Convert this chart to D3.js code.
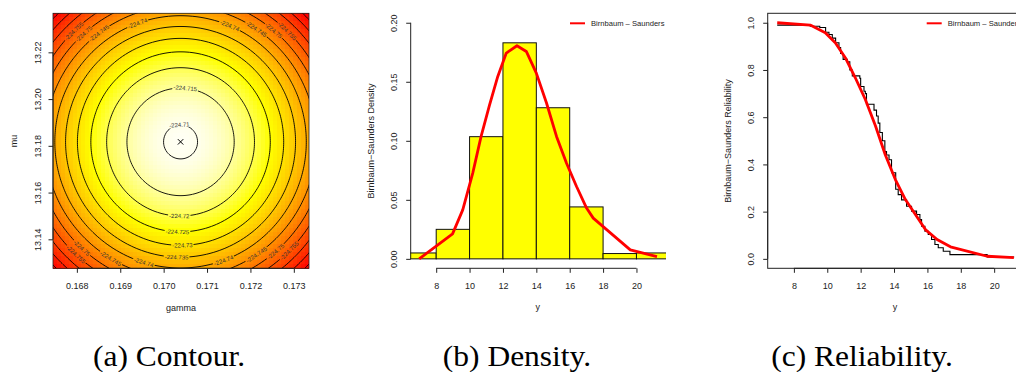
<!DOCTYPE html>
<html>
<head>
<meta charset="utf-8">
<script src="https://cdn.jsdelivr.net/npm/d3@7"></script>
<style>
  body { margin: 0; background: #fff; }
  svg text { font-family: "Liberation Sans", Arial, sans-serif; }
</style>
</head>
<body>
<div id="chart"></div>
<script>
/* DATA */
// (a) contour of the log-likelihood around the MLE
const gammaTicks = [0.168, 0.169, 0.170, 0.171, 0.172, 0.173];
const muTicks = [13.14, 13.16, 13.18, 13.20, 13.22];
const mle = [0.17039, 13.1817];          // gamma, mu
const logLikMax = -224.70944;
const curvature = [3639, 10.49];         // quadratic terms for gamma, mu
const contourLevels = [-224.71, -224.715, -224.72, -224.725, -224.73, -224.735,
  -224.74, -224.745, -224.75, -224.755, -224.76, -224.765, -224.77];
// where each level gets its label: [level, angle on the ring in degrees]
const labelSpots = [
  [-224.71, -94], [-224.715, -85], [-224.72, 91], [-224.725, 92], [-224.73, 89], [-224.735, 92],
  [-224.74, -110], [-224.74, -67], [-224.74, 107], [-224.74, 70],
  [-224.745, -127], [-224.745, -56], [-224.745, 121], [-224.745, 56],
  [-224.75, -132], [-224.75, -50], [-224.75, 133], [-224.75, 49],
  [-224.755, -134], [-224.755, -46], [-224.755, 133], [-224.755, 45]
];

// (b) histogram and fitted density
const binEdges = [6, 8, 10, 12, 14, 16, 18, 20, 22];
const binDensity = [0.005, 0.025, 0.1035, 0.183, 0.128, 0.044, 0.0045, 0.005];
const densX = [6.98, 8.98, 9.59, 10.19, 10.69, 11.19, 11.69, 12.2, 12.84, 13.4, 14.0,
  14.61, 15.21, 15.81, 16.41, 17.01, 17.41, 19.63, 21.23];
const densY = [0, 0.0212, 0.0415, 0.0726, 0.1037, 0.130, 0.1545, 0.1743, 0.1805, 0.1757, 0.1573,
  0.132, 0.1037, 0.081, 0.0613, 0.043, 0.0345, 0.0076, 0.0019];
const densTicks = [0, 0.05, 0.10, 0.15, 0.20];
const yTicks = [8, 10, 12, 14, 16, 18, 20];

// (c) empirical and fitted reliability
const stepX = [7.0, 8.98, 9.55, 9.9, 10.1, 10.3, 10.5, 10.7, 10.8, 10.95, 11.2, 11.35, 11.5,
  11.95, 12.0, 12.2, 12.28, 12.35, 12.8, 12.95, 13.05, 13.15, 13.3, 13.45, 13.55, 13.7, 13.85,
  14.1, 14.25, 14.45, 14.75, 15.05, 15.35, 15.55, 15.65, 15.85, 16.05, 16.25, 16.45, 16.65,
  16.95, 17.35, 19.58, 21.2];
const stepS = [0.99, 0.985, 0.98, 0.96, 0.95, 0.935, 0.915, 0.895, 0.87, 0.845, 0.835, 0.80, 0.775,
  0.765, 0.73, 0.71, 0.70, 0.655, 0.63, 0.605, 0.575, 0.535, 0.50, 0.455, 0.44, 0.42, 0.365,
  0.295, 0.272, 0.25, 0.223, 0.202, 0.188, 0.166, 0.138, 0.117, 0.103, 0.082, 0.061, 0.047,
  0.032, 0.018, 0.008, 0.008];
const survX = [7.0, 8.98, 9.88, 10.48, 11.08, 11.68, 12.28, 12.88, 13.48, 14.08, 14.68, 15.28,
  15.88, 16.58, 17.38, 19.58, 21.18];
const survS = [1.0, 0.99, 0.958, 0.915, 0.852, 0.767, 0.675, 0.565, 0.44, 0.336, 0.251, 0.188,
  0.124, 0.082, 0.051, 0.011, 0.005];
const relTicks = [0, 0.2, 0.4, 0.6, 0.8, 1.0];

const captions = ["(a) Contour.", "(b) Density.", "(c) Reliability."];

/* LAYOUT */
const W = 1016, H = 372;
const plotTop = 13.3, plotBottom = 268.3;
const ink = "#222";

const svg = d3.select("#chart").append("svg")
  .attr("width", W).attr("height", H);
const defs = svg.append("defs");

function bottomAxis(g, scale, ticks, fmt) {
  g.call(d3.axisBottom(scale).tickValues(ticks).tickFormat(fmt)
      .tickSize(4.5).tickSizeOuter(0).tickPadding(10.1))
    .attr("font-size", 9).attr("font-family", null).attr("color", ink);
  g.select(".domain").remove();
  g.append("line")
    .attr("x1", scale(ticks[0])).attr("x2", scale(ticks[ticks.length - 1]))
    .attr("stroke", ink);
}

function leftAxis(g, scale, ticks, fmt, offset) {
  g.call(d3.axisLeft(scale).tickValues(ticks).tickFormat(fmt).tickSize(4.5).tickSizeOuter(0))
    .attr("font-size", 9).attr("font-family", null).attr("color", ink);
  g.select(".domain").remove();
  g.append("line")
    .attr("y1", scale(ticks[0])).attr("y2", scale(ticks[ticks.length - 1]))
    .attr("stroke", ink);
  g.selectAll(".tick text")
    .attr("transform", "rotate(-90)")
    .attr("x", 0).attr("y", -offset).attr("dy", null)
    .attr("text-anchor", "middle");
}

function axisTitle(x, y, txt, rotate) {
  svg.append("text")
    .attr("transform", `translate(${x},${y})` + (rotate ? " rotate(-90)" : ""))
    .attr("text-anchor", "middle")
    .attr("font-size", 9)
    .attr("fill", ink)
    .text(txt);
}

/* (a) CONTOUR */
const aL = 53, aR = 309;
const xA = d3.scaleLinear().domain([0.16745, 0.17335]).range([aL, aR]);
const yA = d3.scaleLinear().domain([13.1276, 13.2367]).range([plotBottom, plotTop]);
const logLik = (g, m) =>
  logLikMax - curvature[0] * (g - mle[0]) ** 2 - curvature[1] * (m - mle[1]) ** 2;

defs.append("clipPath").attr("id", "clipA")
  .append("rect").attr("x", aL).attr("y", plotTop).attr("width", aR - aL).attr("height", plotBottom - plotTop);

// heat image
const nCell = 64;
const cw = (aR - aL) / nCell, ch = (plotBottom - plotTop) / nCell;
const cells = [];
for (let j = 0; j < nCell; j++) {
  for (let i = 0; i < nCell; i++) {
    const px = aL + (i + 0.5) * cw, py = plotTop + (j + 0.5) * ch;
    cells.push({ i, j, z: logLik(xA.invert(px), yA.invert(py)) });
  }
}
const zExt = d3.extent(cells, d => d.z);
const heat = d3.scaleLinear()
  .domain([zExt[0], zExt[0] + 0.75 * (zExt[1] - zExt[0]), zExt[1]])
  .range(["#ff0000", "#ffff00", "#fffff4"]);

svg.append("g").attr("shape-rendering", "crispEdges")
  .selectAll("rect")
  .data(cells)
  .join("rect")
  .attr("x", d => aL + d.i * cw)
  .attr("y", d => plotTop + d.j * ch)
  .attr("width", cw + 0.4)
  .attr("height", ch + 0.4)
  .attr("fill", d => heat(d.z));

// contour lines from a finer grid that reaches past the plot edges
const pad = 80, step = 2;
const exL = aL - pad, exT = plotTop - pad;
const nx = Math.ceil((aR - aL + 2 * pad) / step), ny = Math.ceil((plotBottom - plotTop + 2 * pad) / step);
const grid = new Array(nx * ny);
for (let j = 0; j < ny; j++) {
  for (let i = 0; i < nx; i++) {
    grid[i + j * nx] = logLik(xA.invert(exL + (i + 0.5) * step), yA.invert(exT + (j + 0.5) * step));
  }
}
const contours = d3.contours().size([nx, ny]).thresholds(contourLevels)(grid);
const path = d3.geoPath(d3.geoIdentity().scale(step).translate([exL, exT]));

// label positions on each ring
const fmtLevel = d => d3.format(".3~f")(d).replace("\u2212", "-");
const labels = labelSpots.map(([lev, ang]) => {
  const D = logLikMax - lev;
  const at = t => {
    const r = t * Math.PI / 180;
    return [xA(mle[0] + Math.sqrt(D / curvature[0]) * Math.cos(r)),
            yA(mle[1] - Math.sqrt(D / curvature[1]) * Math.sin(r))];
  };
  const p = at(ang), p1 = at(ang - 1), p2 = at(ang + 1);
  let rot = Math.atan2(p2[1] - p1[1], p2[0] - p1[0]) * 180 / Math.PI;
  if (rot > 90) rot -= 180;
  if (rot <= -90) rot += 180;
  return { lev, x: p[0], y: p[1], rot };
});

const mask = defs.append("mask").attr("id", "labelGap").attr("maskUnits", "userSpaceOnUse")
  .attr("x", 0).attr("y", 0).attr("width", W).attr("height", H);
mask.append("rect").attr("x", 0).attr("y", 0).attr("width", W).attr("height", H).attr("fill", "#fff");

const lineG = svg.append("g").attr("clip-path", "url(#clipA)")
  .append("g").attr("mask", "url(#labelGap)");
lineG.selectAll("path")
  .data(contours)
  .join("path")
  .attr("d", path)
  .attr("fill", "none")
  .attr("stroke", "#000")
  .attr("stroke-width", 0.9);

const labelG = svg.append("g").attr("clip-path", "url(#clipA)");
const labelText = labelG.selectAll("text")
  .data(labels)
  .join("text")
  .attr("transform", d => `translate(${d.x},${d.y}) rotate(${d.rot})`)
  .attr("text-anchor", "middle")
  .attr("dy", "0.35em")
  .attr("font-size", 6)
  .attr("fill", "#333")
  .text(d => fmtLevel(d.lev));
labelText.each(function (d) {
  const w = this.getComputedTextLength() + 2;
  mask.append("rect")
    .attr("x", -w / 2).attr("y", -3).attr("width", w).attr("height", 6)
    .attr("transform", `translate(${d.x},${d.y}) rotate(${d.rot})`)
    .attr("fill", "#000");
});

// MLE marker
const mx = xA(mle[0]), my = yA(mle[1]);
svg.append("path")
  .attr("d", `M${mx - 2.7},${my - 2.7}L${mx + 2.7},${my + 2.7}M${mx - 2.7},${my + 2.7}L${mx + 2.7},${my - 2.7}`)
  .attr("stroke", "#000").attr("stroke-width", 1);

svg.append("rect").attr("x", aL).attr("y", plotTop).attr("width", aR - aL).attr("height", plotBottom - plotTop)
  .attr("fill", "none").attr("stroke", ink).attr("stroke-width", 0.8);

bottomAxis(svg.append("g").attr("transform", `translate(0,${plotBottom})`), xA, gammaTicks, d3.format(".3f"));
leftAxis(svg.append("g").attr("transform", `translate(${aL},0)`), yA, muTicks, d3.format(".2f"), 12);
axisTitle(181, 311, "gamma", false);
axisTitle(16.5, 141, "mu", true);

/* (b) DENSITY */
const bL = 410, bR = 666;
const xB = d3.scaleLinear().domain([6.43, 21.77]).range([bL, bR]);
const yB = d3.scaleLinear().domain([-0.008, 0.208]).range([plotBottom, plotTop]);

defs.append("clipPath").attr("id", "clipB")
  .append("rect").attr("x", bL).attr("y", plotTop).attr("width", bR - bL).attr("height", plotBottom - plotTop);

const bins = binDensity.map((d, i) => ({ x0: binEdges[i], x1: binEdges[i + 1], d }));
svg.append("g").attr("clip-path", "url(#clipB)")
  .selectAll("rect")
  .data(bins)
  .join("rect")
  .attr("x", d => xB(d.x0))
  .attr("y", d => yB(d.d))
  .attr("width", d => xB(d.x1) - xB(d.x0))
  .attr("height", d => yB(0) - yB(d.d))
  .attr("fill", "#ffff00")
  .attr("stroke", "#111")
  .attr("stroke-width", 1);

svg.append("path")
  .datum(d3.zip(densX, densY))
  .attr("d", d3.line().x(d => xB(d[0])).y(d => yB(d[1])))
  .attr("fill", "none")
  .attr("stroke", "#ff0000")
  .attr("stroke-width", 2.8)
  .attr("stroke-linejoin", "round");

bottomAxis(svg.append("g").attr("transform", `translate(0,${plotBottom})`), xB, yTicks, d3.format("d"));
leftAxis(svg.append("g").attr("transform", `translate(${bL + 0.7},0)`), yB, densTicks, d3.format(".2f"), 14.1);
axisTitle(537.7, 310, "y", false);
axisTitle(374, 141, "Birnbaum\u2212Saunders Density", true);

function legend(x, y) {
  svg.append("line").attr("x1", x).attr("x2", x + 15).attr("y1", y).attr("y2", y)
    .attr("stroke", "#ff0000").attr("stroke-width", 2);
  svg.append("text").attr("x", x + 21).attr("y", y).attr("dy", "0.35em")
    .attr("font-size", 7.6).attr("fill", ink)
    .text("Birnbaum \u2013 Saunders");
}
legend(570, 23.3);

/* (c) RELIABILITY */
const cL = 767.7, cR = 1023.7;
const xC = d3.scaleLinear().domain([6.43, 21.77]).range([cL, cR]);
const yC = d3.scaleLinear().domain([-0.04, 1.04]).range([plotBottom, plotTop]);

svg.append("path")
  .datum(d3.zip(stepX, stepS))
  .attr("d", d3.line().curve(d3.curveStepAfter).x(d => xC(d[0])).y(d => yC(d[1])))
  .attr("fill", "none")
  .attr("stroke", "#000")
  .attr("stroke-width", 1.1);

svg.append("path")
  .datum(d3.zip(survX, survS))
  .attr("d", d3.line().x(d => xC(d[0])).y(d => yC(d[1])))
  .attr("fill", "none")
  .attr("stroke", "#ff0000")
  .attr("stroke-width", 2.8)
  .attr("stroke-linejoin", "round");

svg.append("rect").attr("x", cL).attr("y", plotTop).attr("width", cR - cL).attr("height", plotBottom - plotTop)
  .attr("fill", "none").attr("stroke", ink).attr("stroke-width", 1);

bottomAxis(svg.append("g").attr("transform", `translate(0,${plotBottom})`), xC, yTicks, d3.format("d"));
leftAxis(svg.append("g").attr("transform", `translate(${cL},0)`), yC, relTicks, d3.format(".1f"), 13.4);
axisTitle(895, 310, "y", false);
axisTitle(731, 141, "Birnbaum\u2212Saunders Reliability", true);
legend(926.7, 23.3);

/* CAPTIONS */
svg.selectAll(".caption")
  .data(captions)
  .join("text")
  .attr("class", "caption")
  .attr("transform", (d, i) => `translate(${[169, 517, 862][i]},366) scale(1.05,1)`)
  .attr("text-anchor", "middle")
  .attr("font-size", 30)
  .style("font-family", "'Liberation Serif', 'Times New Roman', serif")
  .attr("fill", "#000")
  .text(d => d);
</script>
</body>
</html>
